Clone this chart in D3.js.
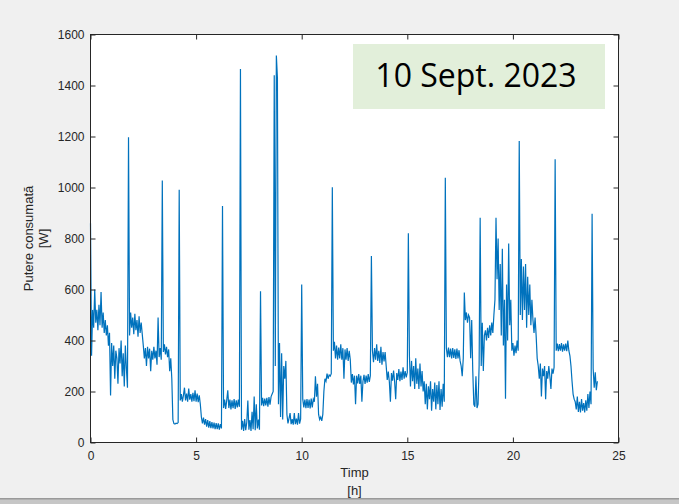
<!DOCTYPE html>
<html>
<head>
<meta charset="utf-8">
<script src="https://cdn.jsdelivr.net/npm/d3@7"></script>
<style>
  body { margin: 0; background: #f0f0f0; }
  svg { display: block; }
</style>
</head>
<body>
<svg></svg>
<script>
// power readings, one every 3 minutes (0.05 h), 20 per hour
const stepHours = 0.05
const power = [
  // 0 h
  860, 340, 520, 450, 600, 470, 520, 440, 540, 460, 590, 450, 510, 430, 480, 420, 460, 380, 430, 184,
  // 1 h
  390, 300, 380, 250, 360, 330, 230, 370, 310, 400, 260, 350, 220, 380, 290, 215, 1197, 420, 510, 450,
  // 2 h
  490, 425, 505, 440, 480, 415, 495, 430, 470, 425, 380, 330, 370, 300, 375, 330, 368, 280, 360, 325,
  // 3 h
  375, 330, 360, 305, 490, 335, 370, 325, 1027, 355, 385, 345, 375, 335, 365, 280, 330, 250, 90, 74,
  // 4 h
  72, 76, 74, 78, 991, 165, 190, 160, 185, 215, 165, 192, 160, 212, 168, 190, 160, 195, 162, 205,
  // 5 h
  160, 192, 158, 185, 150, 100, 75, 98, 70, 92, 62, 88, 58, 84, 56, 80, 55, 78, 52, 76,
  // 6 h
  52, 75, 50, 72, 55, 927, 135, 168, 132, 165, 205, 135, 168, 130, 165, 135, 170, 132, 165, 138,
  // 7 h
  168, 140, 1465, 50, 85, 45, 92, 48, 80, 165, 50, 88, 45, 120, 52, 180, 48, 150, 55, 90,
  // 8 h
  50, 593, 145, 175, 142, 172, 145, 175, 140, 178, 148, 180, 190, 200, 1440, 300, 1518, 1430, 150, 390,
  // 9 h
  100, 350, 90, 300, 250, 320, 110, 75, 95, 115, 72, 92, 70, 115, 72, 94, 70, 115, 74, 92,
  // 10 h
  620, 170, 138, 168, 135, 170, 136, 168, 134, 172, 138, 170, 160, 260, 180, 230, 110, 90, 100, 85,
  // 11 h
  110, 200, 250, 240, 270, 250, 265, 260, 270, 1001, 360, 395, 330, 380, 325, 372, 330, 385, 325, 370,
  // 12 h
  250, 365, 325, 370, 320, 360, 325, 235, 268, 228, 262, 150, 262, 232, 268, 230, 262, 160, 240, 265,
  // 13 h
  230, 262, 235, 268, 238, 262, 731, 360, 315, 370, 325, 385, 320, 360, 312, 375, 305, 355, 318, 355,
  // 14 h
  300, 245, 278, 238, 160, 272, 242, 282, 238, 170, 272, 245, 288, 240, 278, 245, 295, 250, 280, 255,
  // 15 h
  275, 821, 340, 220, 320, 240, 300, 210, 330, 230, 290, 210, 310, 220, 280, 200, 240, 150, 230, 130,
  // 16 h
  220, 170, 240, 125, 210, 160, 235, 130, 225, 150, 240, 128, 210, 140, 230, 160, 1038, 370, 335, 372,
  // 17 h
  335, 368, 330, 370, 332, 365, 328, 368, 330, 362, 320, 300, 260, 330, 588, 480, 510, 470, 500, 490,
  // 18 h
  330, 480, 280, 150, 140, 260, 135, 150, 300, 881, 300, 470, 280, 420, 440, 400, 450, 410, 460, 420,
  // 19 h
  470, 430, 500, 560, 881, 640, 800, 520, 700, 420, 760, 380, 560, 172, 620, 400, 780, 460, 560, 360,
  // 20 h
  390, 340, 380, 350, 400, 360, 1182, 500, 720, 480, 690, 520, 700, 450, 650, 500, 620, 460, 560, 480,
  // 21 h
  430, 490, 420, 330, 300, 250, 310, 180, 290, 260, 300, 170, 280, 250, 300, 260, 210, 290, 270, 295,
  // 22 h
  1111, 360, 388, 358, 386, 360, 390, 356, 385, 360, 388, 358, 400, 360, 340, 300, 240, 190, 170, 160,
  // 23 h
  130, 180, 120, 160, 118, 170, 125, 155, 118, 165, 125, 190, 135, 200, 150, 897, 290, 215, 275, 205,
  // 24 h
  240
]

const xTicks = [0, 5, 10, 15, 20, 25]
const yTicks = [0, 200, 400, 600, 800, 1000, 1200, 1400, 1600]
const xLabel = ["Timp", "[h]"]
const yLabel = ["Putere consumată", "[W]"]
const dateLabel = "10 Sept. 2023"

const width = 679
const height = 504

const svg = d3.select('svg')
  .attr('width', width)
  .attr('height', height)

const x = d3.scaleLinear().domain([0, 25]).range([90.5, 618.5])
const y = d3.scaleLinear().domain([0, 1600]).range([442.5, 34.5])

// figure bottom edge
svg.append('rect')
  .attr('x', 0).attr('y', 498)
  .attr('width', width).attr('height', 6)
  .attr('fill', '#c6c6c6')
svg.append('rect')
  .attr('x', 0).attr('y', 498)
  .attr('width', width).attr('height', 1.5)
  .attr('fill', '#9a9a9a')

// white axes area
svg.append('rect')
  .attr('x', x(0)).attr('y', y(1600))
  .attr('width', x(25) - x(0)).attr('height', y(0) - y(1600))
  .attr('fill', 'white')

const line = d3.line()
  .x((d, i) => x(i * stepHours))
  .y(d => y(d))

svg.append('path')
  .datum(power)
  .attr('d', line)
  .attr('fill', 'none')
  .attr('stroke', '#0072bd')
  .attr('stroke-width', 1.2)

// axes, ticks pointing inward like matlab
function styleAxis(g) {
  g.select('.domain').remove()
  g.selectAll('line').attr('stroke', '#262626')
  g.selectAll('text')
    .attr('fill', '#262626')
    .style('font', '12px "Liberation Sans", Arial, sans-serif')
}

svg.append('g')
  .attr('transform', `translate(0,${y(0)})`)
  .call(d3.axisBottom(x).tickValues(xTicks).tickSize(-5).tickPadding(9))
  .call(styleAxis)

svg.append('g')
  .attr('transform', `translate(0,${y(1600)})`)
  .call(d3.axisTop(x).tickValues(xTicks).tickSize(-5).tickFormat(''))
  .call(styleAxis)

svg.append('g')
  .attr('transform', `translate(${x(0)},0)`)
  .call(d3.axisLeft(y).tickValues(yTicks).tickSize(-5).tickPadding(6).tickFormat(d3.format('d')))
  .call(styleAxis)

svg.append('g')
  .attr('transform', `translate(${x(25)},0)`)
  .call(d3.axisRight(y).tickValues(yTicks).tickSize(-5).tickFormat(''))
  .call(styleAxis)

svg.append('rect')
  .attr('x', x(0)).attr('y', y(1600))
  .attr('width', x(25) - x(0)).attr('height', y(0) - y(1600))
  .attr('fill', 'none')
  .attr('stroke', '#262626')
  .attr('stroke-width', 1)

// axis labels
svg.append('text')
  .attr('x', (x(0) + x(25)) / 2).attr('y', 477)
  .attr('text-anchor', 'middle')
  .attr('fill', '#262626')
  .style('font', '13px "Liberation Sans", Arial, sans-serif')
  .text(xLabel[0])
svg.append('text')
  .attr('x', (x(0) + x(25)) / 2).attr('y', 495)
  .attr('text-anchor', 'middle')
  .attr('fill', '#262626')
  .style('font', '13px "Liberation Sans", Arial, sans-serif')
  .text(xLabel[1])

const yMid = (y(0) + y(1600)) / 2
yLabel.forEach((t, i) => {
  svg.append('text')
    .attr('transform', `translate(${33 + i * 15},${yMid}) rotate(-90)`)
    .attr('text-anchor', 'middle')
    .attr('fill', '#262626')
    .style('font', '13px "Liberation Sans", Arial, sans-serif')
    .text(t)
})

// date box
svg.append('rect')
  .attr('x', 353).attr('y', 44)
  .attr('width', 252).attr('height', 65)
  .attr('fill', '#e2efda')
svg.append('text')
  .attr('x', 476).attr('y', 87)
  .attr('text-anchor', 'middle')
  .attr('fill', '#000')
  .style('font', '32px "Open Sans", sans-serif')
  .text(dateLabel)
</script>
</body>
</html>
